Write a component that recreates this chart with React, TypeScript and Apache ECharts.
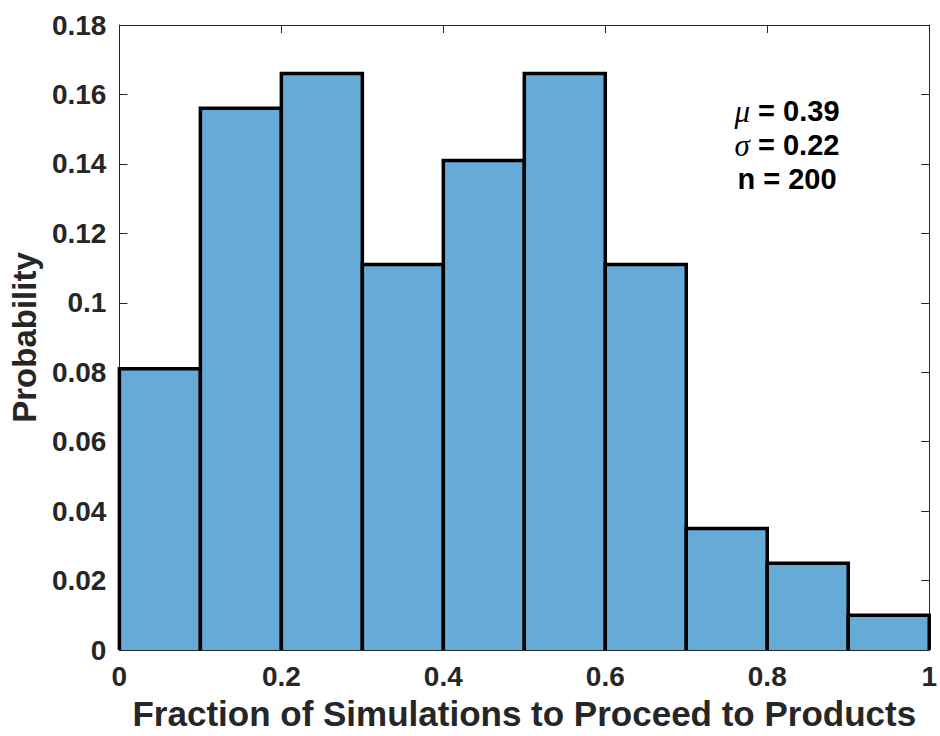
import React, { useEffect, useRef } from "react";
import * as echarts from "echarts";

const binEdges = [0, 0.1, 0.2, 0.3, 0.4, 0.5, 0.6, 0.7, 0.8, 0.9, 1.0];
const probabilities = [0.081, 0.156, 0.166, 0.111, 0.141, 0.166, 0.111, 0.035, 0.025, 0.01];
const statSymbols = ["μ", "σ", "n"];
const statValues = ["0.39", "0.22", "200"];
const xTitle = "Fraction of Simulations to Proceed to Products";
const yTitle = "Probability";

const AXIS = "#262626";
const FONT = "Liberation Sans, Arial, Helvetica, sans-serif";

export default function App() {
  const ref = useRef<HTMLDivElement>(null);
  useEffect(() => {
    if (!ref.current) return;
    const chart = echarts.init(ref.current, undefined, { renderer: "svg" });
    const data = probabilities.map((v, i) => [binEdges[i], binEdges[i + 1], v]);
    const graphics = statSymbols.map((s, i) => ({
      type: "text",
      x: 787,
      y: 111 + i * 34,
      style: {
        text: i < 2 ? `{s|${s}} = ${statValues[i]}` : `${s} = ${statValues[i]}`,
        fontFamily: FONT,
        fontWeight: "bold",
        fontSize: 29,
        fill: "#000",
        align: "center",
        verticalAlign: "middle",
        rich: {
          s: {
            fontFamily: "Liberation Serif, Times New Roman, serif",
            fontStyle: "italic",
            fontWeight: "normal",
            fontSize: 31,
            fill: "#000",
          },
        },
      },
    }));
    const common = {
      min: 0,
      axisLine: { show: true, onZero: false, lineStyle: { color: AXIS, width: 1 } },
      axisTick: { show: true, inside: true, length: 8, lineStyle: { color: AXIS, width: 1 } },
      splitLine: { show: false },
    };
    chart.setOption({
      animation: false,
      backgroundColor: "#fff",
      grid: { left: 118, right: 5, top: 25, bottom: 79, containLabel: false },
      xAxis: [
        {
          ...common,
          type: "value",
          max: 1,
          interval: 0.2,
          position: "bottom",
          name: xTitle,
          nameLocation: "middle",
          nameGap: 46,
          nameTextStyle: { fontFamily: FONT, fontWeight: "bold", fontSize: 35, color: AXIS },
          axisLabel: {
            fontFamily: FONT,
            fontWeight: "bold",
            fontSize: 28,
            color: AXIS,
            margin: 12,
            formatter: (v: number) => String(Math.round(v * 10) / 10),
          },
        },
        {
          ...common,
          type: "value",
          max: 1,
          interval: 0.2,
          position: "top",
          axisLabel: { show: false },
        },
      ],
      yAxis: [
        {
          ...common,
          type: "value",
          max: 0.18,
          interval: 0.02,
          position: "left",
          name: yTitle,
          nameLocation: "middle",
          nameGap: 78,
          nameTextStyle: { fontFamily: FONT, fontWeight: "bold", fontSize: 33, color: AXIS },
          axisLabel: {
            fontFamily: FONT,
            fontWeight: "bold",
            fontSize: 28,
            color: AXIS,
            margin: 13,
            formatter: (v: number) => String(Math.round(v * 100) / 100),
          },
        },
        {
          ...common,
          type: "value",
          max: 0.18,
          interval: 0.02,
          position: "right",
          axisLabel: { show: false },
        },
      ],
      series: [
        {
          type: "custom",
          xAxisIndex: 0,
          yAxisIndex: 0,
          data,
          encode: { x: [0, 1], y: 2 },
          renderItem: (params: any, api: any) => {
            const x0 = api.value(0);
            const x1 = api.value(1);
            const v = api.value(2);
            const p0 = api.coord([x0, 0]);
            const p1 = api.coord([x1, v]);
            return {
              type: "group",
              children: [
                {
                  type: "rect",
                  shape: { x: p0[0], y: p1[1], width: p1[0] - p0[0], height: p0[1] - p1[1] },
                  style: { fill: "#66aad7", stroke: null },
                },
                {
                  type: "polyline",
                  shape: {
                    points: [
                      [p0[0], p0[1]],
                      [p0[0], p1[1]],
                      [p1[0], p1[1]],
                      [p1[0], p0[1]],
                    ],
                  },
                  style: { fill: null, stroke: "#000", lineWidth: 3.5, lineJoin: "miter" },
                },
              ],
            };
          },
        },
      ],
      graphic: graphics,
    });
    return () => chart.dispose();
  }, []);
  return <div ref={ref} style={{ position: "absolute", left: 0, top: 0, width: 940, height: 736 }} />;
}
